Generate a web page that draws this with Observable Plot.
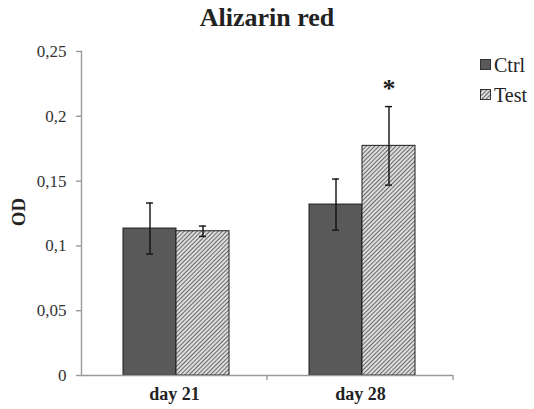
<!DOCTYPE html>
<html>
<head>
<meta charset="utf-8">
<script src="https://cdn.jsdelivr.net/npm/d3@7"></script>
<script src="https://cdn.jsdelivr.net/npm/@observablehq/plot@0.6"></script>
<style>
  html, body { margin: 0; padding: 0; background: #fff; }
</style>
</head>
<body>
<div id="title" style="font-family:'Liberation Serif', serif; font-weight:bold; font-size:26px; line-height:26px; height:35px; padding-top:5px; width:534px; text-align:center; color:#222">Alizarin red</div>
<div id="plot"></div>
<script>
// ---- data ----
const days = ["day 21", "day 28"];
const series = ["Ctrl", "Test"];
const ctrlMean = [0.1134, 0.1319];
const ctrlErr = [0.0197, 0.0197];
const testMean = [0.1113, 0.1772];
const testErr = [0.0040, 0.0303];
const significance = ["", "*"];
const yTicks = [0, 0.05, 0.1, 0.15, 0.2, 0.25];
const yTickLabels = ["0", "0,05", "0,1", "0,15", "0,2", "0,25"];
const yLabel = "OD";
const seriesFill = ["#595959", "url(#hatch)"];

const rows = [];
days.forEach((day, i) => {
  rows.push({day, series: series[0], mean: ctrlMean[i], err: ctrlErr[i], sig: ""});
  rows.push({day, series: series[1], mean: testMean[i], err: testErr[i], sig: significance[i]});
});

const axisGray = "#9a9a9a";
const svgNS = "http://www.w3.org/2000/svg";
const serifFont = "'Liberation Serif', serif";

// small tick on the x axis at the right edge of each category band
const boundaryTicks = (index, scales, values, dims) => {
  const line = document.createElementNS(svgNS, "line");
  const x = dims.width - dims.marginRight;
  const y0 = scales.y(0);
  line.setAttribute("x1", x); line.setAttribute("x2", x);
  line.setAttribute("y1", y0); line.setAttribute("y2", y0 + 5);
  line.setAttribute("stroke", axisGray);
  line.setAttribute("stroke-width", 1.4);
  return line;
};

const chart = Plot.plot({
  width: 534,
  height: 369,
  marginTop: 11,
  marginBottom: 34,
  marginLeft: 81,
  marginRight: 81,
  style: {fontFamily: serifFont, background: "white", overflow: "visible"},
  fx: {domain: days, padding: 0, label: null},
  x: {domain: series, paddingInner: 0, paddingOuter: 0.7383, align: 0.52, axis: null},
  y: {domain: [0, 0.25], label: null},
  color: {type: "ordinal", domain: series, range: seriesFill},
  marks: [
    Plot.barY(rows, {fx: "day", x: "series", y: "mean", fill: "series", stroke: "#1e1e1e", strokeWidth: 1}),
    Plot.ruleY([0], {stroke: axisGray, strokeWidth: 1.4}),
    Plot.frame({anchor: "left", facetAnchor: "left", stroke: axisGray, strokeWidth: 1.4}),
    boundaryTicks,
    Plot.axisY({
      ticks: yTicks, tickSize: 5, tickPadding: 10,
      tickFormat: (d) => yTickLabels[yTicks.indexOf(d)],
      stroke: axisGray, strokeWidth: 1.4, fill: "#333", fontSize: 17, label: null
    }),
    Plot.axisFx({anchor: "bottom", tickSize: 0, tickPadding: 12, fontSize: 18, fontWeight: "bold", fill: "#222", label: null}),
    Plot.ruleX(rows, {fx: "day", x: "series", y1: (d) => d.mean - d.err, y2: (d) => d.mean + d.err, stroke: "#111", strokeWidth: 1.4}),
    Plot.tickY(rows, {fx: "day", x: "series", y: (d) => d.mean + d.err, inset: 23, stroke: "#111", strokeWidth: 1.4}),
    Plot.tickY(rows, {fx: "day", x: "series", y: (d) => d.mean - d.err, inset: 23, stroke: "#111", strokeWidth: 1.4}),
    Plot.text(rows, {fx: "day", x: "series", y: (d) => d.mean + d.err, text: "sig", dy: -18, fontSize: 26, fontWeight: "bold", fill: "#222"})
  ]
});

// hatch pattern definition inside the chart svg
const defs = document.createElementNS(svgNS, "defs");
defs.innerHTML = '<pattern id="hatch" patternUnits="userSpaceOnUse" width="3" height="3" patternTransform="rotate(45)">' +
  '<rect width="3" height="3" fill="#ffffff"></rect>' +
  '<line x1="1.5" y1="0" x2="1.5" y2="3" stroke="#6a6a6a" stroke-width="1.45"></line></pattern>';
chart.insertBefore(defs, chart.firstChild);

// y axis title (rotated), inside the chart svg
const yl = document.createElementNS(svgNS, "text");
yl.setAttribute("transform", "translate(25,172) rotate(-90)");
yl.setAttribute("text-anchor", "middle");
yl.setAttribute("font-family", serifFont);
yl.setAttribute("font-weight", "bold");
yl.setAttribute("font-size", 19);
yl.setAttribute("fill", "#222");
yl.textContent = yLabel;
chart.appendChild(yl);

// legend, inside the chart svg
series.forEach((s, i) => {
  const y = 19 + i * 30;
  const r = document.createElementNS(svgNS, "rect");
  r.setAttribute("x", 480.5); r.setAttribute("y", y + 0.5);
  r.setAttribute("width", 10); r.setAttribute("height", 10);
  r.setAttribute("fill", seriesFill[i]);
  r.setAttribute("stroke", "#333"); r.setAttribute("stroke-width", 1);
  chart.appendChild(r);
  const t = document.createElementNS(svgNS, "text");
  t.setAttribute("x", 494); t.setAttribute("y", y + 12.7);
  t.setAttribute("text-anchor", "start");
  t.setAttribute("font-family", serifFont);
  t.setAttribute("font-size", 20);
  t.setAttribute("fill", "#222");
  t.textContent = s;
  chart.appendChild(t);
});

document.getElementById("plot").appendChild(chart);
</script>
</body>
</html>
